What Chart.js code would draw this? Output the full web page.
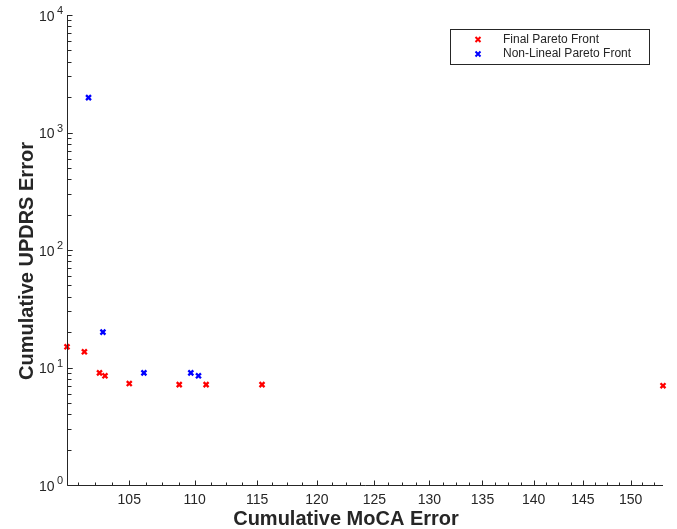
<!DOCTYPE html>
<html>
<head>
<meta charset="utf-8">
<script src="https://cdn.jsdelivr.net/npm/chart.js@4.4.1/dist/chart.umd.min.js"></script>
<style>
    body { margin: 0; background: #fff; }
    #wrap { width: 677px; height: 529px; }
</style>
</head>
<body>
<div id="wrap"><canvas id="pareto-chart" width="677" height="529"></canvas></div>
<script>
// Data
var finalMoca = [100.45, 101.7, 102.8, 103.2, 105.0, 108.8, 110.9, 115.4, 153.5];
var finalUpdrs = [15.0, 13.6, 9.0, 8.5, 7.3, 7.15, 7.15, 7.15, 7.0];
var nonLinMoca = [102.0, 103.05, 106.1, 109.7, 110.3];
var nonLinUpdrs = [1980, 20.0, 9.0, 9.0, 8.5];

var xTicks = [105, 110, 115, 120, 125, 130, 135, 140, 145, 150];
var yTicks = [1, 10, 100, 1000, 10000];
var yTickExp = ['0', '1', '2', '3', '4'];

var AXIS_COLOR = '#262626';
var FONT = '"Liberation Sans", Arial, Helvetica, sans-serif';

function toPoints(xs, ys) {
    return xs.map(function (x, i) { return { x: x, y: ys[i] }; });
}

// MATLAB-ish axes: inward ticks, superscript log labels, boxed legend
var matlabAxes = {
    id: 'matlabAxes',
    afterDraw: function (chart) {
        var ctx = chart.ctx;
        var xs = chart.scales.x, ys = chart.scales.y;
        var a = chart.chartArea;
        var left = Math.round(a.left) + 0.5, bottom = Math.round(a.bottom) + 0.5;

        ctx.save();
        ctx.strokeStyle = AXIS_COLOR;
        ctx.lineWidth = 1;
        ctx.beginPath();
        ctx.moveTo(left, Math.round(a.top));
        ctx.lineTo(left, bottom);
        ctx.lineTo(Math.round(a.right), bottom);
        ctx.stroke();

        // x minor ticks every 1.25, major every 5
        ctx.beginPath();
        for (var v = 101.25; v <= xs.max; v += 1.25) {
            var px = Math.round(xs.getPixelForValue(v)) + 0.5;
            var major = Math.abs(v / 5 - Math.round(v / 5)) < 1e-6;
            ctx.moveTo(px, bottom);
            ctx.lineTo(px, bottom - (major ? 5 : 3));
        }
        // y minor ticks 2..9 per decade
        for (var d = 1; d < 10000; d *= 10) {
            for (var m = 1; m <= 10; m++) {
                var py = Math.round(ys.getPixelForValue(d * m)) + 0.5;
                ctx.moveTo(left, py);
                ctx.lineTo(left + (m === 1 || m === 10 ? 5 : 4), py);
            }
        }
        ctx.stroke();

        // tick labels
        ctx.fillStyle = AXIS_COLOR;
        ctx.font = '14px ' + FONT;
        ctx.textAlign = 'center';
        ctx.textBaseline = 'middle';
        xTicks.forEach(function (t) {
            ctx.fillText(String(t), xs.getPixelForValue(t), 500);
        });
        yTicks.forEach(function (t, i) {
            var py = ys.getPixelForValue(t);
            ctx.font = '14px ' + FONT;
            ctx.textAlign = 'right';
            ctx.textBaseline = 'middle';
            ctx.fillText('10', 54.5, py + 2);
            ctx.font = '11px ' + FONT;
            ctx.textAlign = 'left';
            ctx.fillText(yTickExp[i], 57, py - 4);
        });

        // axis titles
        ctx.font = 'bold 20px ' + FONT;
        ctx.textAlign = 'center';
        ctx.textBaseline = 'middle';
        ctx.fillText('Cumulative MoCA Error', 346, 519);
        ctx.translate(27, 261);
        ctx.rotate(-Math.PI / 2);
        ctx.fillText('Cumulative UPDRS Error', 0, 0);
        ctx.restore();

        // legend box
        ctx.save();
        ctx.fillStyle = '#fff';
        ctx.fillRect(450.5, 29.5, 199, 35);
        ctx.strokeStyle = AXIS_COLOR;
        ctx.lineWidth = 1;
        ctx.strokeRect(450.5, 29.5, 199, 35);
        ctx.font = '12px ' + FONT;
        ctx.textAlign = 'left';
        ctx.textBaseline = 'middle';
        chart.data.datasets.forEach(function (ds, i) {
            var ly = 39.5 + i * 14.5;
            ctx.strokeStyle = ds.borderColor;
            ctx.lineWidth = 2;
            ctx.beginPath();
            ctx.moveTo(475.5, ly - 2.5);
            ctx.lineTo(480.5, ly + 2.5);
            ctx.moveTo(480.5, ly - 2.5);
            ctx.lineTo(475.5, ly + 2.5);
            ctx.stroke();
            ctx.fillStyle = AXIS_COLOR;
            ctx.fillText(ds.label, 503, ly);
        });
        ctx.restore();
    }
};

document.addEventListener("DOMContentLoaded", function () {
    var allMoca = finalMoca.concat(nonLinMoca);
    var ctx1 = document.getElementById('pareto-chart');
    new Chart(ctx1.getContext('2d'), {
        type: 'scatter',
        data: {
            datasets: [{
                label: 'Final Pareto Front',
                data: toPoints(finalMoca, finalUpdrs),
                borderColor: '#ff0000',
                backgroundColor: '#ff0000',
                pointStyle: 'crossRot',
                pointRadius: 3.5,
                borderWidth: 2.3,
                clip: false
            }, {
                label: 'Non-Lineal Pareto Front',
                data: toPoints(nonLinMoca, nonLinUpdrs),
                borderColor: '#0000ff',
                backgroundColor: '#0000ff',
                pointStyle: 'crossRot',
                pointRadius: 3.5,
                borderWidth: 2.3,
                clip: false
            }]
        },
        options: {
            responsive: false,
            animation: false,
            layout: { padding: { left: 67, right: 14, top: 15, bottom: 44 } },
            plugins: {
                legend: { display: false },
                tooltip: { enabled: false }
            },
            scales: {
                x: {
                    type: 'logarithmic',
                    display: false,
                    min: Math.min.apply(null, allMoca),
                    max: Math.max.apply(null, allMoca)
                },
                y: {
                    type: 'logarithmic',
                    display: false,
                    min: 1,
                    max: 10000
                }
            }
        },
        plugins: [matlabAxes]
    });
});
</script>
</body>
</html>
